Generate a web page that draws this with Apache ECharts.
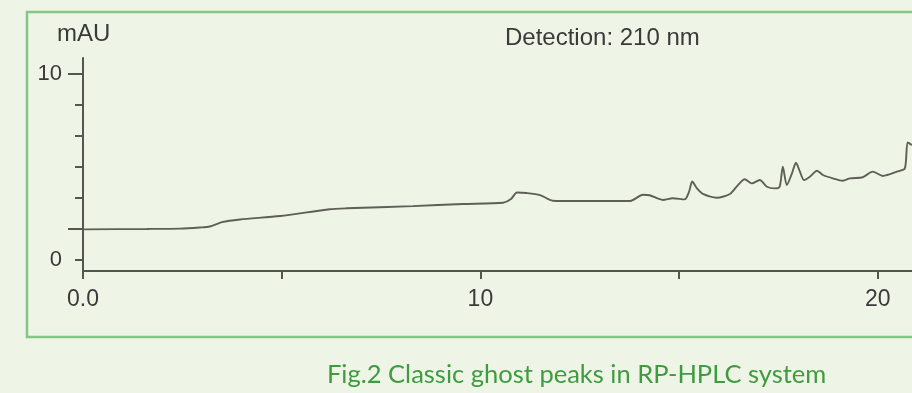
<!DOCTYPE html>
<html>
<head>
<meta charset="utf-8">
<script src="https://cdn.jsdelivr.net/npm/echarts@6/dist/echarts.min.js"></script>
<style>
html,body{margin:0;padding:0;background:#eef5e7;}
#c{width:912px;height:393px;}
</style>
</head>
<body>
<div id="c"></div>
<script>
// Retention time (min)
var times = [0, 1.61, 2.44, 2.94, 3.19, 3.50, 3.95, 4.96, 6.21, 6.64, 8.30, 9.56, 10.57, 10.77, 10.92, 11.17, 11.50, 11.82, 12.50, 13.76, 14.09, 14.26, 14.59, 14.84, 15.14, 15.25, 15.33, 15.45, 15.60, 15.95, 16.28, 16.48, 16.65, 16.83, 17.03, 17.21, 17.41, 17.53, 17.61, 17.71, 17.84, 17.94, 18.04, 18.14, 18.29, 18.47, 18.62, 18.87, 19.12, 19.30, 19.62, 19.87, 20.13, 20.48, 20.68, 20.75, 20.86];
// Absorbance (mAU)
var absorbance = [1.65, 1.67, 1.69, 1.75, 1.80, 2.04, 2.18, 2.37, 2.73, 2.78, 2.90, 3.01, 3.08, 3.28, 3.63, 3.60, 3.49, 3.19, 3.17, 3.17, 3.51, 3.48, 3.23, 3.32, 3.26, 3.67, 4.22, 3.85, 3.55, 3.35, 3.55, 4.03, 4.34, 4.12, 4.30, 3.94, 3.85, 3.94, 5.02, 4.03, 4.66, 5.23, 4.75, 4.30, 4.48, 4.80, 4.57, 4.39, 4.26, 4.39, 4.45, 4.75, 4.52, 4.75, 4.93, 6.32, 6.18];
var xTickValues = [0, 5, 10, 15, 20];
var xLabelValues = [0, 10, 20];
var xLabelTexts = {0: '0.0', 10: '10', 20: '20'};
var yMinorTicks = [0, 10/3, 5, 20/3, 25/3];
var yMajorTicks = [5/3, 10];
var yLabelValues = [0, 10];

var data = times.map(function (t, i) { return [t, absorbance[i]]; });
var axisColor = '#55564f';
var textColor = '#3a3a3a';
var font = 'Liberation Sans, Arial, sans-serif';

var chart = echarts.init(document.getElementById('c'), null, {renderer: 'canvas'});
chart.setOption({
  backgroundColor: '#eef5e7',
  animation: false,
  grid: {left: 83, right: 0, top: 58, bottom: 122, containLabel: false, outerBoundsMode: 'none'},
  xAxis: {
    type: 'value', min: 0, max: 20.86,
    splitLine: {show: false},
    axisLine: {show: true, onZero: false, lineStyle: {color: axisColor, width: 2}},
    axisTick: {show: true, length: 8, inside: false, customValues: xTickValues, lineStyle: {color: axisColor, width: 2}},
    axisLabel: {show: true, customValues: xLabelValues, margin: 17, color: textColor, fontFamily: font, fontSize: 23,
      formatter: function (v) { return xLabelTexts[Math.round(v)] || String(v); }}
  },
  yAxis: [{
    type: 'value', min: -0.59, max: 10.86, position: 'left',
    splitLine: {show: false},
    axisLine: {show: true, onZero: false, lineStyle: {color: axisColor, width: 2}},
    axisTick: {show: true, length: 8, customValues: yMinorTicks, lineStyle: {color: axisColor, width: 2}},
    axisLabel: {show: true, customValues: yLabelValues, margin: 21, color: textColor, fontFamily: font, fontSize: 22}
  }, {
    type: 'value', min: -0.59, max: 10.86, position: 'left', offset: 0,
    splitLine: {show: false},
    axisLine: {show: false},
    axisTick: {show: true, length: 15, customValues: yMajorTicks, lineStyle: {color: axisColor, width: 2}},
    axisLabel: {show: false}
  }],
  series: [{
    type: 'line', data: data, showSymbol: false, smooth: 0.25,
    lineStyle: {color: '#5e5f56', width: 1.9}, clip: true
  }],
  graphic: [
    {type: 'rect', shape: {x: 27, y: 12, width: 900, height: 325}, style: {fill: null, stroke: '#84c784', lineWidth: 2.5}, z: 100},
    {type: 'text', left: 57, top: 22, style: {text: 'mAU', fill: textColor, font: '24px ' + font}},
    {type: 'text', left: 505, top: 26, style: {text: 'Detection: 210 nm', fill: textColor, font: '24px ' + font}},
    {type: 'text', left: 327, top: 362, style: {text: 'Fig.2 Classic ghost peaks in RP-HPLC system', fill: '#3f9b3f', font: '25.5px Lato, "Open Sans", sans-serif'}}
  ]
});
</script>
</body>
</html>
